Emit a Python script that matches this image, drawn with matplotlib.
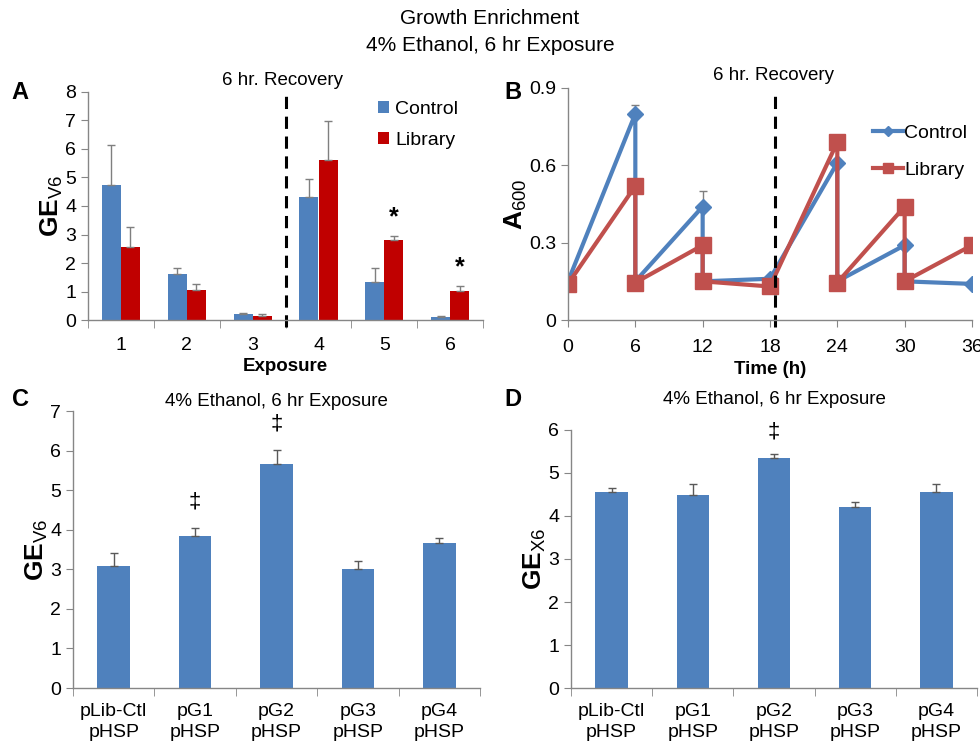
import matplotlib

matplotlib.use("Agg")

import matplotlib.pyplot as plt
import numpy as np

plt.rcParams["font.family"] = ["Liberation Sans", "DejaVu Sans"]
plt.rcParams["mathtext.fontset"] = "custom"
plt.rcParams["mathtext.rm"] = "Liberation Sans"
plt.rcParams["mathtext.bf"] = "Liberation Sans:bold"

BLUE = "#4F81BD"
RED_A = "#C00000"
RED_B = "#C0504D"
GREY = "#868686"
ERR = "#7F7F7F"

# panel A
exposures = ["1", "2", "3", "4", "5", "6"]
a_control = [4.74, 1.63, 0.20, 4.30, 1.35, 0.12]
a_control_err = [1.41, 0.20, 0.05, 0.63, 0.47, 0.03]
a_library = [2.56, 1.05, 0.15, 5.60, 2.80, 1.03]
a_library_err = [0.71, 0.23, 0.05, 1.37, 0.13, 0.15]

# panel B
b_time = [0, 6, 6, 12, 12, 18, 24, 24, 30, 30, 36]
b_control = [0.15, 0.80, 0.15, 0.44, 0.15, 0.16, 0.61, 0.15, 0.29, 0.15, 0.14]
b_control_err = [0.0, 0.035, 0.0, 0.06, 0.0, 0.0, 0.0, 0.0, 0.0, 0.0, 0.0]
b_library = [0.14, 0.52, 0.145, 0.29, 0.15, 0.13, 0.69, 0.145, 0.44, 0.15, 0.29]

# panels C and D
strains = ["pLib-Ctl\npHSP", "pG1\npHSP", "pG2\npHSP", "pG3\npHSP", "pG4\npHSP"]
c_values = [3.08, 3.84, 5.66, 3.01, 3.66]
c_err = [0.33, 0.20, 0.35, 0.20, 0.13]
c_marks = ["", "\u2021", "\u2021", "", ""]
d_values = [4.56, 4.49, 5.35, 4.20, 4.56]
d_err = [0.09, 0.25, 0.09, 0.12, 0.18]
d_marks = ["", "", "\u2021", "", ""]

TICK_FS = 14


def excel_axes(ax):
    for side in ["top", "right"]:
        ax.spines[side].set_visible(False)
    for side in ["left", "bottom"]:
        ax.spines[side].set_color(GREY)
        ax.spines[side].set_linewidth(1.0)
    ax.tick_params(axis="both", colors=GREY, labelcolor="black", labelsize=TICK_FS, length=5, direction="out")


def category_ticks(ax, n, pad):
    ax.set_xlim(-0.5, n - 0.5)
    ax.set_xticks(np.arange(n))
    ax.set_xticks(np.arange(n + 1) - 0.5, minor=True)
    ax.tick_params(axis="x", which="major", length=0, pad=pad)
    ax.tick_params(axis="x", which="minor", length=6, colors=GREY)


fig = plt.figure(figsize=(9.8, 7.43), dpi=100)
fig.text(0.5, 0.975, "Growth Enrichment", ha="center", va="center", fontsize=15)
fig.text(0.5, 0.939, "4% Ethanol, 6 hr Exposure", ha="center", va="center", fontsize=15)

# A
axA = fig.add_axes([0.0898, 0.5693, 0.4032, 0.3069])
x = np.arange(len(exposures))
w = 0.29
axA.bar(x - w / 2, a_control, w, color=BLUE, label="Control",
        yerr=[np.zeros(len(x)), a_control_err], error_kw=dict(ecolor=ERR, elinewidth=1, capsize=3, capthick=1))
axA.bar(x + w / 2, a_library, w, color=RED_A, label="Library",
        yerr=[np.zeros(len(x)), a_library_err], error_kw=dict(ecolor=ERR, elinewidth=1, capsize=3, capthick=1))
excel_axes(axA)
category_ticks(axA, len(exposures), 12)
axA.set_xticklabels(exposures)
axA.set_ylim(0, 8)
axA.set_yticks(range(0, 9))
axA.axvline(2.5, ymin=-0.03, ymax=0.99, color="black", linestyle=(0, (4, 2.5)), linewidth=2.2, clip_on=False)
axA.text(2.45, 8.1, "6 hr. Recovery", ha="center", va="bottom", fontsize=13.5)
for i in [4, 5]:
    axA.text(i + w / 2, a_library[i] + a_library_err[i] + 0.25, "*", ha="center", va="bottom",
             fontsize=18, fontweight="bold")
axA.set_xlabel("Exposure", fontsize=13.5, fontweight="bold", labelpad=3)
axA.set_ylabel(r"GE$_{\mathrm{V6}}$", fontsize=19, fontweight="bold", labelpad=0)
axA.legend(loc="upper left", bbox_to_anchor=(0.735, 0.96), frameon=False, fontsize=14,
           handlelength=0.55, handleheight=0.55, handletextpad=0.3, labelspacing=0.7,
           borderaxespad=0, borderpad=0)
fig.text(0.012, 0.875, "A", fontsize=17, fontweight="bold", va="center")

# B
axB = fig.add_axes([0.5796, 0.5693, 0.4122, 0.3123])
axB.errorbar(b_time, b_control, yerr=[np.zeros(len(b_time)), b_control_err], fmt="none",
             ecolor=ERR, elinewidth=1, capsize=3)
axB.plot(b_time, b_control, color=BLUE, linewidth=3, marker="D", markersize=8, label="Control")
axB.plot(b_time, b_library, color=RED_B, linewidth=3, marker="s", markersize=11, label="Library")
excel_axes(axB)
axB.tick_params(axis="x", pad=9)
axB.set_xlim(0, 36)
axB.set_xticks(range(0, 37, 6))
axB.set_ylim(0, 0.9)
axB.set_yticks([0, 0.3, 0.6, 0.9])
axB.set_yticklabels(["0", "0.3", "0.6", "0.9"])
axB.axvline(18.45, ymin=-0.03, ymax=0.99, color="black", linestyle=(0, (4, 2.5)), linewidth=2.2, clip_on=False)
axB.text(18.3, 0.915, "6 hr. Recovery", ha="center", va="bottom", fontsize=13.5)
axB.set_xlabel("Time (h)", fontsize=13.5, fontweight="bold", labelpad=3)
axB.set_ylabel(r"A$_{\mathrm{600}}$", fontsize=19, fontweight="bold", labelpad=0)
axB.legend(loc="upper left", bbox_to_anchor=(0.755, 0.845), frameon=False, fontsize=14,
           handlelength=1.55, handletextpad=0.05, labelspacing=1.0, markerscale=0.65,
           borderaxespad=0, borderpad=0)
fig.text(0.515, 0.875, "B", fontsize=17, fontweight="bold", va="center")


def strain_panel(ax, values, err, marks, ymax, mark_gap):
    xs = np.arange(len(strains))
    ax.bar(xs, values, 0.4, color=BLUE, yerr=[np.zeros(len(xs)), err],
           error_kw=dict(ecolor="#595959", elinewidth=1, capsize=3, capthick=1))
    excel_axes(ax)
    category_ticks(ax, len(strains), 11)
    ax.set_xticklabels(strains, fontsize=TICK_FS, linespacing=1.3)
    ax.set_ylim(0, ymax)
    ax.set_yticks(range(0, ymax + 1))
    for xi, v, e, m in zip(xs, values, err, marks):
        if m:
            ax.text(xi, v + e + mark_gap, m, ha="center", va="bottom", fontsize=16)


# C
axC = fig.add_axes([0.0745, 0.074, 0.4153, 0.3728])
strain_panel(axC, c_values, c_err, c_marks, 7, 0.4)
axC.set_title("4% Ethanol, 6 hr Exposure", fontsize=13.5, pad=3.5)
axC.set_ylabel(r"GE$_{\mathrm{V6}}$", fontsize=19, fontweight="bold", labelpad=0)
fig.text(0.012, 0.462, "C", fontsize=17, fontweight="bold", va="center")

# D
axD = fig.add_axes([0.5827, 0.074, 0.4143, 0.3473])
strain_panel(axD, d_values, d_err, d_marks, 6, 0.28)
axD.set_title("4% Ethanol, 6 hr Exposure", fontsize=13.5, pad=19)
axD.set_ylabel(r"GE$_{\mathrm{X6}}$", fontsize=19, fontweight="bold", labelpad=0)
fig.text(0.515, 0.462, "D", fontsize=17, fontweight="bold", va="center")

fig.savefig("out.png", dpi=100)
